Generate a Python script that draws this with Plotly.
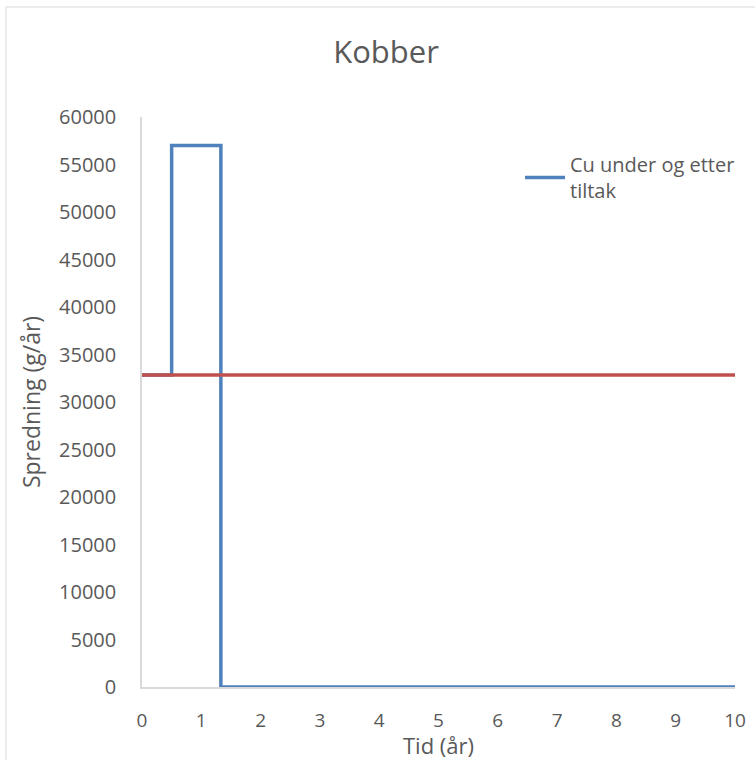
import plotly.graph_objects as go

# Data
cu_x = [0, 0.5, 0.5, 1.33, 1.33, 10]
cu_y = [32850, 32850, 57000, 57000, 0, 0]
ref_x = [0, 10]
ref_y = [32850, 32850]
x_ticks = list(range(0, 11))
y_ticks = list(range(0, 60001, 5000))
y_labels = [str(v) for v in y_ticks]

L, R, T, B = 142, 20, 117, 73
W, H = 755, 760
pw = W - L - R
ph = H - T - B

fig = go.Figure()
fig.add_trace(go.Scatter(x=cu_x, y=cu_y, mode="lines", name="Cu under og etter<br>tiltak",
                         line=dict(color="#4F81BD", width=3.5)))
fig.add_trace(go.Scatter(x=ref_x, y=ref_y, mode="lines", name="ref", showlegend=False,
                         line=dict(color="#C0504D", width=3.5)))

gray = "#595959"
fig.update_layout(
    width=W, height=H,
    margin=dict(l=L, r=R, t=T, b=B, autoexpand=False),
    paper_bgcolor="white", plot_bgcolor="white",
    font=dict(family="Open Sans, Liberation Sans, sans-serif", color=gray),
    title=dict(text="Kobber", x=386 / W, xanchor="center", y=1 - 52 / H, yanchor="middle",
               font=dict(size=31, color=gray)),
    xaxis=dict(range=[0, 10], tickvals=x_ticks, showgrid=False, zeroline=False,
               showline=True, linecolor="#D9D9D9", linewidth=1.5, ticks="",
               ticklabelstandoff=15,
               tickfont=dict(size=19, color=gray),
               title=dict(text="Tid (år)", font=dict(size=22, color=gray), standoff=2)),
    yaxis=dict(range=[0, 60000], tickvals=y_ticks, ticktext=y_labels, showgrid=False, zeroline=False,
               showline=True, linecolor="#D9D9D9", linewidth=1.5, ticks="",
               ticklabelstandoff=20,
               tickfont=dict(size=20, color=gray),
               title=dict(text="Spredning (g/år)", font=dict(size=23, color=gray), standoff=12)),
    legend=dict(x=(520 - L) / pw, y=(H - B - 145) / ph, xanchor="left", yanchor="top",
                font=dict(size=20, color=gray), bgcolor="rgba(0,0,0,0)", itemwidth=40),
    shapes=[
        dict(type="line", xref="paper", yref="paper",
             x0=(6 - L) / pw, x1=(W + 5 - L) / pw, y0=(H - B - 7) / ph, y1=(H - B - 7) / ph,
             line=dict(color="#D9D9D9", width=1)),
        dict(type="line", xref="paper", yref="paper",
             x0=(6 - L) / pw, x1=(6 - L) / pw, y0=(H - B - 7) / ph, y1=(H - B - 765) / ph,
             line=dict(color="#D9D9D9", width=1)),
    ],
)

fig.write_html("out.html")
